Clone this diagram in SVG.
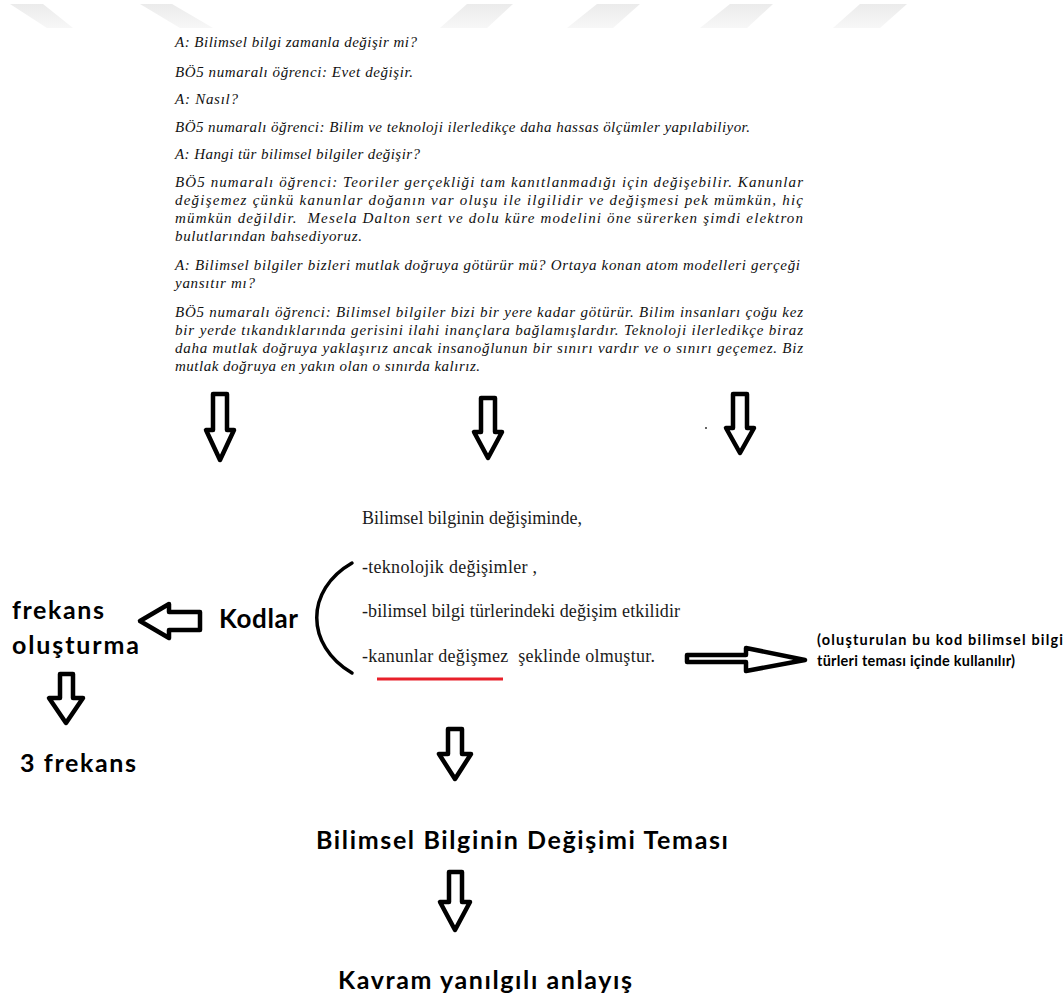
<svg xmlns="http://www.w3.org/2000/svg" width="1064" height="998" viewBox="0 0 1064 998">
  <style>
    .it { font-family: "Liberation Serif", "Times New Roman", serif; font-style: italic; font-size: 15px; fill: #111; white-space: pre; }
    .sr { font-family: "Liberation Serif", "Times New Roman", serif; font-size: 18px; fill: #1a1a1a; white-space: pre; }
    .bd { font-family: Lato, "Open Sans", sans-serif; font-weight: bold; fill: #000; }
    .arw { fill: #fff; stroke: #000; stroke-width: 4.5; stroke-linejoin: round; }
    .wm { fill: url(#wmfade); }
  </style>
  <defs>
    <linearGradient id="wmfade" x1="0" y1="0" x2="0" y2="1">
      <stop offset="0" stop-color="#ebebeb"/>
      <stop offset="1" stop-color="#f7f7f7"/>
    </linearGradient>
  </defs>

  <rect width="1064" height="998" fill="#fff"/>

  <!-- faint header stripes -->
  <g id="header-stripes">
    <polygon class="wm" points="10,4 43,4 73,28 47,28"/>
    <polygon class="wm" points="140,4 172,4 213,28 180,28"/>
    <polygon class="wm" points="467,4 513,4 487,28 440,28"/>
    <polygon class="wm" points="597,4 640,4 613,28 567,28"/>
    <polygon class="wm" points="730,4 773,4 747,28 700,28"/>
    <polygon class="wm" points="860,4 907,4 880,28 833,28"/>
  </g>

  <!-- interview transcript -->
  <g id="transcript">
    <text class="it" x="175" y="47" textLength="242" lengthAdjust="spacing">A: Bilimsel bilgi zamanla değişir mi?</text>
    <text class="it" x="175" y="77" textLength="238" lengthAdjust="spacing">BÖ5 numaralı öğrenci: Evet değişir.</text>
    <text class="it" x="175" y="104" textLength="63" lengthAdjust="spacing">A: Nasıl?</text>
    <text class="it" x="175" y="132" textLength="575" lengthAdjust="spacing">BÖ5 numaralı öğrenci: Bilim ve teknoloji ilerledikçe daha hassas ölçümler yapılabiliyor.</text>
    <text class="it" x="175" y="159" textLength="245" lengthAdjust="spacing">A: Hangi tür bilimsel bilgiler değişir?</text>
    <text class="it" x="175" y="187" textLength="628" lengthAdjust="spacing">BÖ5 numaralı öğrenci: Teoriler gerçekliği tam kanıtlanmadığı için değişebilir. Kanunlar</text>
    <text class="it" x="175" y="205" textLength="628" lengthAdjust="spacing">değişemez çünkü kanunlar doğanın var oluşu ile ilgilidir ve değişmesi pek mümkün, hiç</text>
    <text class="it" x="175" y="223" textLength="628" lengthAdjust="spacing">mümkün değildir.  Mesela Dalton sert ve dolu küre modelini öne sürerken şimdi elektron</text>
    <text class="it" x="175" y="241" textLength="187" lengthAdjust="spacing">bulutlarından bahsediyoruz.</text>
    <text class="it" x="175" y="270" textLength="625" lengthAdjust="spacing">A: Bilimsel bilgiler bizleri mutlak doğruya götürür mü? Ortaya konan atom modelleri gerçeği</text>
    <text class="it" x="175" y="288" textLength="80" lengthAdjust="spacing">yansıtır mı?</text>
    <text class="it" x="175" y="317" textLength="628" lengthAdjust="spacing">BÖ5 numaralı öğrenci: Bilimsel bilgiler bizi bir yere kadar götürür. Bilim insanları çoğu kez</text>
    <text class="it" x="175" y="335" textLength="628" lengthAdjust="spacing">bir yerde tıkandıklarında gerisini ilahi inançlara bağlamışlardır. Teknoloji ilerledikçe biraz</text>
    <text class="it" x="175" y="353" textLength="628" lengthAdjust="spacing">daha mutlak doğruya yaklaşırız ancak insanoğlunun bir sınırı vardır ve o sınırı geçemez. Biz</text>
    <text class="it" x="175" y="371" textLength="305" lengthAdjust="spacing">mutlak doğruya en yakın olan o sınırda kalırız.</text>
  </g>

  <!-- summary of the change factors -->
  <g id="summary">
    <text class="sr" x="362" y="524" textLength="220" lengthAdjust="spacing">Bilimsel bilginin değişiminde,</text>
    <text class="sr" x="362" y="573" textLength="175" lengthAdjust="spacing">-teknolojik değişimler ,</text>
    <text class="sr" x="362" y="617" textLength="318" lengthAdjust="spacing">-bilimsel bilgi türlerindeki değişim etkilidir</text>
    <text class="sr" x="362" y="662" textLength="293" lengthAdjust="spacing">-kanunlar değişmez  şeklinde olmuştur.</text>
    <line x1="377" y1="679" x2="503" y2="679" stroke="#e8202a" stroke-width="3"/>
    <path d="M352,563 C305,590 305,645 352,673" fill="none" stroke="#000" stroke-width="3.5" stroke-linecap="round"/>
  </g>

  <g id="kodlar">
    <text class="bd" x="219" y="628" font-size="26" textLength="79" lengthAdjust="spacing">Kodlar</text>
  </g>

  <g id="frekans-olusturma">
    <text class="bd" x="12" y="619" font-size="25" textLength="92" lengthAdjust="spacing">frekans</text>
    <text class="bd" x="12" y="654" font-size="25" textLength="127" lengthAdjust="spacing">oluşturma</text>
  </g>

  <g id="uc-frekans">
    <text class="bd" x="20" y="772" font-size="25" textLength="116" lengthAdjust="spacing">3 frekans</text>
  </g>

  <g id="kod-notu">
    <text class="bd" x="817" y="645" font-size="14.5" textLength="246" lengthAdjust="spacing">(oluşturulan bu kod bilimsel bilgi</text>
    <text class="bd" x="817" y="666" font-size="14.5" textLength="198" lengthAdjust="spacing">türleri teması içinde kullanılır)</text>
  </g>

  <g id="tema">
    <text class="bd" x="316" y="849" font-size="25" textLength="412" lengthAdjust="spacing">Bilimsel Bilginin Değişimi Teması</text>
  </g>

  <g id="kavram-yanilgisi">
    <text class="bd" x="338" y="989" font-size="25" textLength="294" lengthAdjust="spacing">Kavram yanılgılı anlayış</text>
  </g>

  <!-- block arrows -->
  <g id="connectors">
    <path class="arw" d="M213,394 H227 V430 H234 L220,460 L206,430 H213 Z"/>
    <path class="arw" d="M481,398 H495 V432 H502 L488,458 L474,432 H481 Z"/>
    <path class="arw" d="M733,394 H747 V428 H754 L740,453 L726,428 H733 Z"/>
    <circle cx="706" cy="428" r="1" fill="#333"/>
    <path class="arw" d="M200,612 H169 V604 L140,621 L169,638 V630 H200 Z"/>
    <path class="arw" d="M60,674 H73 V698 H83 L66,723 L49,698 H60 Z"/>
    <path class="arw" d="M687,655 H746 V648 L805,660 L746,671 V662 H687 Z"/>
    <path class="arw" d="M448,729 H462 V754 H471 L455,779 L439,754 H448 Z"/>
    <path class="arw" d="M449,872 H462 V902 H470 L455,930 L440,902 H449 Z"/>
  </g>
</svg>
